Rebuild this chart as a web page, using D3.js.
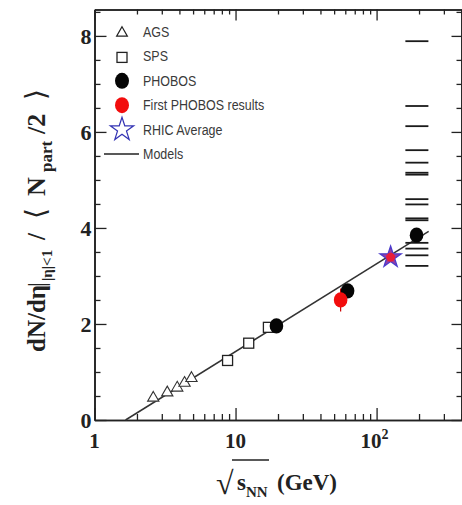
<!DOCTYPE html>
<html>
<head>
<meta charset="utf-8">
<script src="https://cdn.jsdelivr.net/npm/d3@7"></script>
<style>
  html, body { margin: 0; padding: 0; background: #fff; }
  svg { display: block; }
  .tick-label { font-family: "Liberation Serif", "DejaVu Serif", serif; font-weight: bold; fill: #222; }
  .leg { font-family: "Liberation Sans", "Arial", sans-serif; font-size: 14.5px; fill: #3a3a3a; }
  .title { font-family: "Liberation Serif", "DejaVu Serif", serif; font-weight: bold; fill: #222; }
</style>
</head>
<body>
<svg id="chart" width="462" height="505"></svg>
<script>
// ---------------- data ----------------
const agsEnergy = [2.61, 3.28, 3.86, 4.35, 4.87];
const agsValue  = [0.46, 0.57, 0.67, 0.77, 0.87];

const spsEnergy = [8.78, 12.4, 17.1];
const spsValue  = [1.24, 1.60, 1.93];

const phobosEnergy = [19.5, 62.3, 192];
const phobosValue  = [1.96, 2.69, 3.85];

const firstPhobosEnergy = [55.6];
const firstPhobosValue  = [2.50];
const firstPhobosErrLow = [2.26];
const firstPhobosErrHigh = [2.74];

const rhicEnergy = [125.7];
const rhicValue  = [3.39];

const fitEnergy = [1.66, 234];
const fitValue  = [0.0, 3.93];

const modelEnergyRange = [160, 233];
const modelValues = [7.89, 6.54, 6.12, 5.62, 5.36, 5.15, 5.11, 4.60, 4.49, 4.20, 4.16, 3.69, 3.57, 3.43, 3.21];

const xMajorTicks = [1, 10, 100];
const xMinorTicks = [2,3,4,5,6,7,8,9,20,30,40,50,60,70,80,90,200,300,400];
const yMajorTicks = [0, 2, 4, 6, 8];
const yMinorTicks = [0.5,1,1.5,2.5,3,3.5,4.5,5,5.5,6.5,7,7.5,8.5];

const legendLabels = ["AGS", "SPS", "PHOBOS", "First PHOBOS results", "RHIC Average", "Models"];

// ---------------- layout ----------------
const svg = d3.select("#chart");
const L = 94.5, R = 461.5, T = 9.5, B = 420;

const x = d3.scaleLog().domain([1, 400]).range([L, R]);
const y = d3.scaleLinear().domain([0, 8.55]).range([B, T]);

const frameColor = "#222";

function styleAxis(g) {
  g.selectAll("path.domain").attr("stroke", frameColor).attr("stroke-width", 1.6);
  g.selectAll(".tick line").attr("stroke", frameColor).attr("stroke-width", 1.3);
  g.selectAll(".tick text").remove();
}
// bottom
svg.append("g").attr("transform", `translate(0,${B})`)
  .call(d3.axisBottom(x).tickValues(xMinorTicks).tickSizeInner(-6).tickSizeOuter(0)).call(styleAxis);
svg.append("g").attr("transform", `translate(0,${B})`)
  .call(d3.axisBottom(x).tickValues(xMajorTicks).tickSizeInner(-12).tickSizeOuter(0)).call(styleAxis);
// top
svg.append("g").attr("transform", `translate(0,${T})`)
  .call(d3.axisTop(x).tickValues(xMinorTicks).tickSizeInner(-5).tickSizeOuter(0)).call(styleAxis);
svg.append("g").attr("transform", `translate(0,${T})`)
  .call(d3.axisTop(x).tickValues(xMajorTicks).tickSizeInner(-11).tickSizeOuter(0)).call(styleAxis);
// left
svg.append("g").attr("transform", `translate(${L},0)`)
  .call(d3.axisLeft(y).tickValues(yMinorTicks).tickSizeInner(-6).tickSizeOuter(0)).call(styleAxis);
svg.append("g").attr("transform", `translate(${L},0)`)
  .call(d3.axisLeft(y).tickValues(yMajorTicks).tickSizeInner(-12).tickSizeOuter(0)).call(styleAxis);
// right
svg.append("g").attr("transform", `translate(${R},0)`)
  .call(d3.axisRight(y).tickValues(yMinorTicks).tickSizeInner(-5).tickSizeOuter(0)).call(styleAxis);
svg.append("g").attr("transform", `translate(${R},0)`)
  .call(d3.axisRight(y).tickValues(yMajorTicks).tickSizeInner(-10).tickSizeOuter(0)).call(styleAxis);

// y tick labels
svg.append("g").selectAll("text").data(yMajorTicks).join("text")
  .attr("class", "tick-label")
  .attr("x", L - 3).attr("y", d => y(d) + 8)
  .attr("text-anchor", "end").attr("font-size", 22)
  .text(d => d);

// x tick labels
const xl = svg.append("g");
xMajorTicks.forEach(v => {
  const exp = Math.round(Math.log10(v));
  const t = xl.append("text").attr("class", "tick-label").attr("font-size", 21)
    .attr("y", 448).attr("text-anchor", "middle");
  if (exp <= 1) {
    t.attr("x", x(v)).text(String(v));
  } else {
    t.attr("x", x(v) - 2);
    t.append("tspan").text("10");
    t.append("tspan").attr("dy", -9).attr("font-size", 14).text(exp);
  }
});

// x title
const xt = svg.append("g");
xt.append("text").attr("class", "title").attr("x", 216).attr("y", 494)
  .attr("font-size", 32).attr("font-weight", "normal").text("√");
xt.append("line").attr("x1", 232).attr("x2", 269).attr("y1", 460).attr("y2", 460)
  .attr("stroke", "#222").attr("stroke-width", 1.6);
const xtt = xt.append("text").attr("class", "title").attr("x", 237).attr("y", 490).attr("font-size", 23);
xtt.append("tspan").text("s");
xtt.append("tspan").attr("dy", 7).attr("font-size", 15).text("NN");
xtt.append("tspan").attr("dy", -7).attr("x", 277).text("(GeV)");

// y title (rotated; x in rotated frame = -screenY)
const yt = svg.append("text").attr("class", "title").attr("font-size", 25)
  .attr("transform", "translate(45,0) rotate(-90)");
yt.append("tspan").attr("x", -352).text("dN/dη");
yt.append("tspan").attr("x", -287).attr("font-weight", "normal").text("|");
yt.append("tspan").attr("x", -281).attr("dy", 7).attr("font-size", 15).text("|η|<1");
yt.append("tspan").attr("x", -240).attr("dy", -7).text("/");
yt.append("tspan").attr("x", -219).attr("font-weight", "normal").attr("font-size", 28).text("⟨");
yt.append("tspan").attr("x", -196).attr("font-size", 26).text("N");
yt.append("tspan").attr("x", -172).attr("dy", 7).attr("font-size", 17).text("part");
yt.append("tspan").attr("x", -134).attr("dy", -7).attr("font-size", 26).text("/2");
yt.append("tspan").attr("x", -100).attr("font-weight", "normal").attr("font-size", 28).text("⟩");

// fit line
const fitPts = fitEnergy.map((e, i) => [e, fitValue[i]]);
svg.append("path").datum(fitPts)
  .attr("d", d3.line().x(d => x(d[0])).y(d => y(d[1])))
  .attr("fill", "none").attr("stroke", "#333").attr("stroke-width", 1.5);

// models
svg.append("g").selectAll("line").data(modelValues).join("line")
  .attr("x1", x(modelEnergyRange[0])).attr("x2", x(modelEnergyRange[1]))
  .attr("y1", d => y(d)).attr("y2", d => y(d))
  .attr("stroke", "#1a1a1a").attr("stroke-width", 1.8);

// AGS triangles
const tri = d3.symbol().type(d3.symbolTriangle).size(55);
svg.append("g").selectAll("path").data(agsEnergy).join("path")
  .attr("d", tri)
  .attr("transform", (d, i) => `translate(${x(d)},${y(agsValue[i])})`)
  .attr("fill", "white").attr("stroke", "#333").attr("stroke-width", 1.1);

// SPS squares
svg.append("g").selectAll("rect").data(spsEnergy).join("rect")
  .attr("x", d => x(d) - 5).attr("y", (d, i) => y(spsValue[i]) - 5)
  .attr("width", 10).attr("height", 10)
  .attr("fill", "white").attr("stroke", "#222").attr("stroke-width", 1.3);

// first PHOBOS error bar
svg.append("g").selectAll("line").data(firstPhobosEnergy).join("line")
  .attr("x1", d => x(d)).attr("x2", d => x(d))
  .attr("y1", (d, i) => y(firstPhobosErrLow[i])).attr("y2", (d, i) => y(firstPhobosErrHigh[i]))
  .attr("stroke", "#c00").attr("stroke-width", 1.2);

// PHOBOS
svg.append("g").selectAll("ellipse").data(phobosEnergy).join("ellipse")
  .attr("cx", d => x(d)).attr("cy", (d, i) => y(phobosValue[i]))
  .attr("rx", 6.8).attr("ry", 7.6).attr("fill", "#050505");

// first PHOBOS
svg.append("g").selectAll("ellipse").data(firstPhobosEnergy).join("ellipse")
  .attr("cx", d => x(d)).attr("cy", (d, i) => y(firstPhobosValue[i]))
  .attr("rx", 6.8).attr("ry", 7.6).attr("fill", "#f20d0d");

// RHIC average
const star = d3.symbol().type(d3.symbolStar).size(140);
const rg = svg.append("g").selectAll("g").data(rhicEnergy).join("g")
  .attr("transform", (d, i) => `translate(${x(d)},${y(rhicValue[i])})`);
rg.append("path").attr("d", star).attr("fill", "#9a3c9e").attr("stroke", "#4b3ccc").attr("stroke-width", 1.3);
rg.append("circle").attr("r", 4.5).attr("fill", "#e81e3a");

// legend
const lg = svg.append("g");
const legX = 122, legTextX = 143, legBase = 37, legStep = 24.4;
legendLabels.forEach((lab, i) => {
  const cy = legBase + i * legStep - 5;
  if (i === 0) {
    lg.append("path").attr("d", d3.symbol().type(d3.symbolTriangle).size(50)())
      .attr("transform", `translate(${legX},${cy + 1})`).attr("fill", "white").attr("stroke", "#222").attr("stroke-width", 1.2);
  } else if (i === 1) {
    lg.append("rect").attr("x", legX - 5).attr("y", cy - 4).attr("width", 10).attr("height", 10)
      .attr("fill", "white").attr("stroke", "#222").attr("stroke-width", 1.3);
  } else if (i === 2) {
    lg.append("ellipse").attr("cx", legX).attr("cy", cy).attr("rx", 7).attr("ry", 8).attr("fill", "#050505");
  } else if (i === 3) {
    lg.append("ellipse").attr("cx", legX).attr("cy", cy).attr("rx", 7).attr("ry", 8).attr("fill", "#f20d0d");
  } else if (i === 4) {
    lg.append("path").attr("d", d3.symbol().type(d3.symbolStar).size(170)())
      .attr("transform", `translate(${legX},${cy})`).attr("fill", "white").attr("stroke", "#3434b4").attr("stroke-width", 1.2);
  } else {
    lg.append("line").attr("x1", 104).attr("x2", 139).attr("y1", cy).attr("y2", cy)
      .attr("stroke", "#222").attr("stroke-width", 1.5);
  }
  lg.append("text").attr("class", "leg")
    .attr("transform", `translate(${legTextX},${legBase + i * legStep}) scale(0.86,1)`)
    .text(lab);
});
</script>
</body>
</html>
